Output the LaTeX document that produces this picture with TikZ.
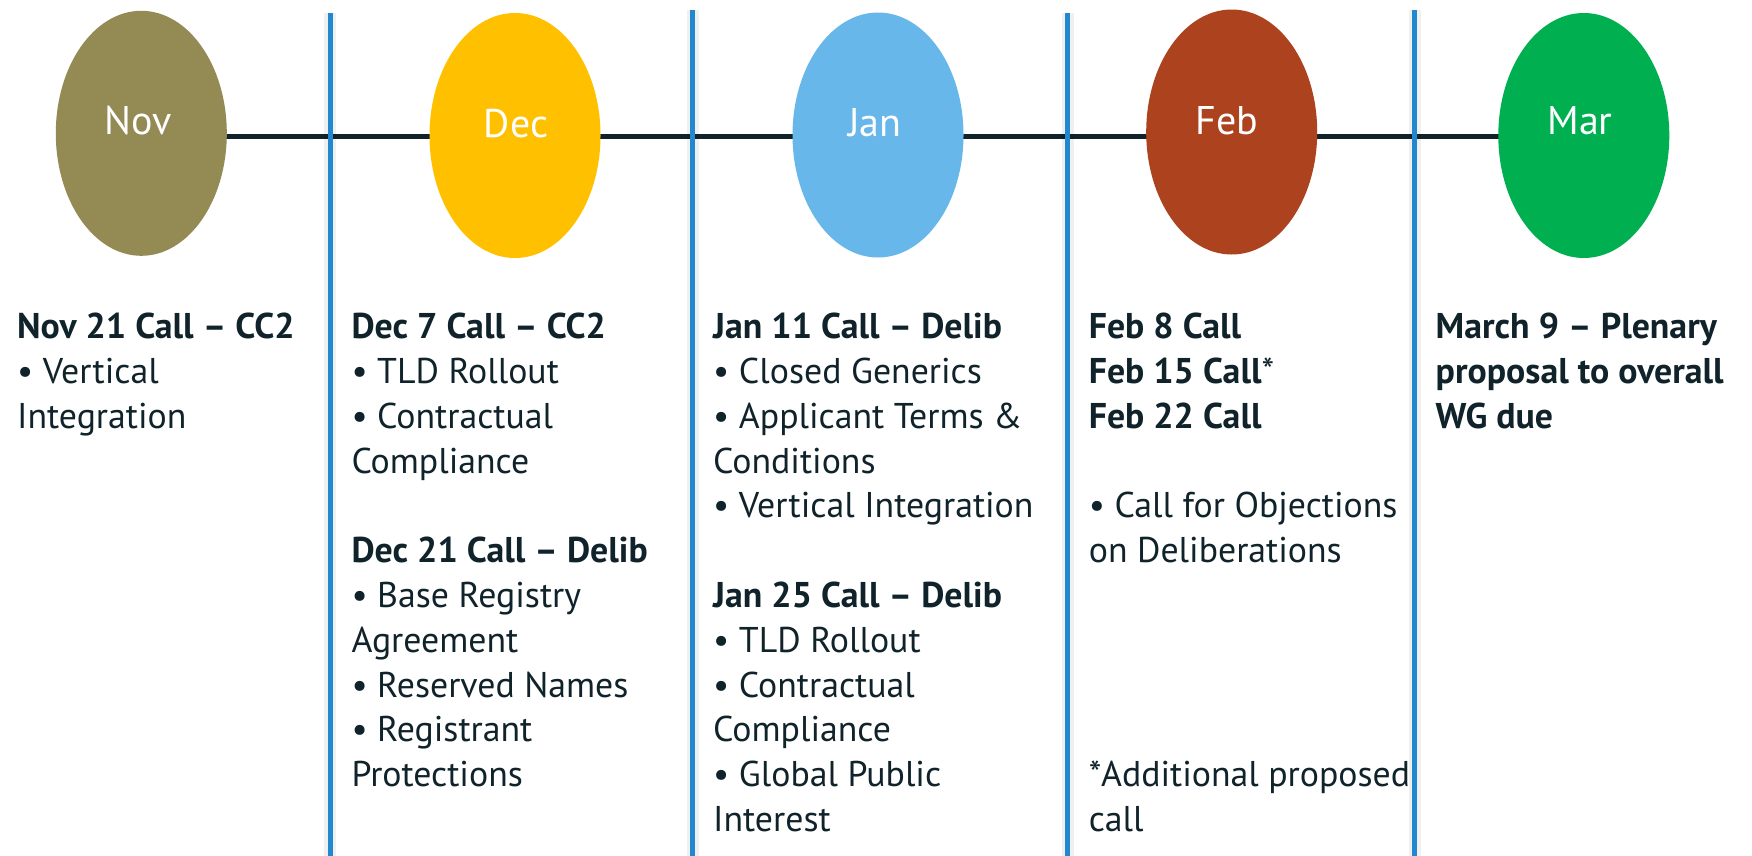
\documentclass[tikz,border=0pt]{standalone}
\usepackage{fontspec}
\setmainfont{PT Sans}
\usetikzlibrary{shapes.geometric}
\pgfdeclarelayer{background}
\pgfdeclarelayer{foreground}
\pgfsetlayers{background,main,foreground}
\definecolor{novc}{HTML}{948A54}
\definecolor{decc}{HTML}{FFC000}
\definecolor{janc}{HTML}{68B7EA}
\definecolor{febc}{HTML}{AC431E}
\definecolor{marc}{HTML}{00B050}
\definecolor{txtc}{HTML}{10232A}
\definecolor{vlinec}{HTML}{2187CF}
\newcommand\colblk[1]{\begin{tabular}[t]{@{}l@{}}#1\end{tabular}}
\tikzset{
  month/.style={ellipse, draw=none, fill=#1, minimum width=171pt, minimum height=245pt, inner sep=0pt},
  monthlbl/.style={font=\fontsize{40}{40}\selectfont, text=white, anchor=base, inner sep=0pt},
  timeline/.style={line width=5pt, draw=txtc},
  vline/.style={line width=5pt, draw=vlinec},
  vshadow/.style={line width=12pt, draw=black, draw opacity=0.06},
  coltext/.style={anchor=base west, inner sep=0pt, text=txtc,
    font=\fontsize{35.8}{44.8}\selectfont},
}
\begin{document}
\begin{tikzpicture}[x=1pt,y=-1pt]
\useasboundingbox (0,0) rectangle (1752,855);
% month ellipses
\node[month=novc] (nov) at (141.3,133.3) {};
\node[month=decc] (dec) at (515,135.5) {};
\node[month=janc] (jan) at (878,135) {};
\node[month=febc] (feb) at (1231.7,132) {};
\node[month=marc] (mar) at (1583.8,135.5) {};
\node[monthlbl] (novl) at (138,134) {Nov};
\node[monthlbl] (decl) at (516,137) {Dec};
\node[monthlbl] (janl) at (875,136) {Jan};
\node[monthlbl] (febl) at (1227,134) {Feb};
\node[monthlbl] (marl) at (1580,134.5) {Mar};
% background and timeline
\coordinate (tly) at (0,136.5);
\begin{pgfonlayer}{background}
\fill[white] (0,0) rectangle (1752,855);
\draw[timeline] (nov.center |- tly) -- (mar.center |- tly);
\end{pgfonlayer}
% column texts
\node[coltext] (novt) at (17,338.6) {\colblk{%
\textbf{Nov 21 Call – CC2}\\
• Vertical\\
Integration}};
\node[coltext] (dect) at (351.3,338.6) {\colblk{%
\textbf{Dec 7 Call – CC2}\\
• TLD Rollout\\
• Contractual\\
Compliance\\
\\
\textbf{Dec 21 Call – Delib}\\
• Base Registry\\
Agreement\\
• Reserved Names\\
• Registrant\\
Protections}};
\node[coltext] (jant) at (713,338.6) {\colblk{%
\textbf{Jan 11 Call – Delib}\\
• Closed Generics\\
• Applicant Terms \&\\
Conditions\\
• Vertical Integration\\
\\
\textbf{Jan 25 Call – Delib}\\
• TLD Rollout\\
• Contractual\\
Compliance\\
• Global Public\\
Interest}};
\node[coltext] (febt) at (1088.6,338.6) {\colblk{%
\textbf{Feb 8 Call}\\
\textbf{Feb 15 Call}*\\
\textbf{Feb 22 Call}\\
\\
• Call for Objections\\
on Deliberations\\
\\
\\
\\
\\
{}*Additional proposed\\
call}};
\node[coltext] (mart) at (1435.5,338.6) {\colblk{%
\textbf{March 9 – Plenary}\\
\textbf{proposal to overall}\\
\textbf{WG due}}};
% vertical separators
\coordinate (v1t) at (330.4,13.3);  \coordinate (v1b) at (330.4,870);
\coordinate (v2t) at (692.9,10);    \coordinate (v2b) at (692.9,870);
\coordinate (v3t) at (1067.9,13.3); \coordinate (v3b) at (1067.9,870);
\coordinate (v4t) at (1414.8,10);   \coordinate (v4b) at (1414.8,870);
\begin{pgfonlayer}{foreground}
\foreach \v in {v1,v2,v3,v4}{
  \draw[vshadow] (\v t) -- (\v b);
  \draw[vline] (\v t) -- (\v b);
}
\end{pgfonlayer}
\end{tikzpicture}
\end{document}
